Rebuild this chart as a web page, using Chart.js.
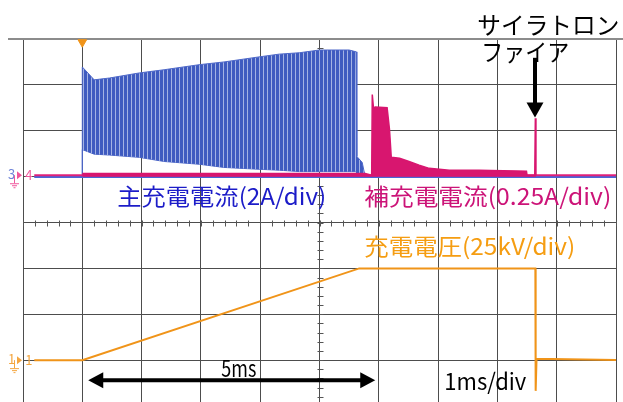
<!DOCTYPE html>
<html>
<head>
<meta charset="utf-8">
<script src="https://cdn.jsdelivr.net/npm/chart.js@4"></script>
<style>
  html, body { margin: 0; padding: 0; background: #fff; overflow: hidden; }
  canvas { display: block; }
</style>
</head>
<body>
<canvas id="scope" width="623" height="412"></canvas>
<script>
// time axis in ms from trigger (1 ms/div), vertical values in screen divisions

// ch3 main charge current (2A/div) - envelope of the oscillation
const mainT      = [0, 0, 0.08, 0.2, 0.46, 0.96, 1.38, 1.97, 2.39, 2.98, 3.32, 3.66, 4.0, 4.5, 4.62, 4.63, 4.72, 4.77];
const mainTop    = [0.99, 3.39, 3.28, 3.11, 3.15, 3.26, 3.33, 3.44, 3.50, 3.61, 3.67, 3.70, 3.76, 3.76, 3.72, 1.44, 1.31, 1.0];
const mainBottom = [0.99, 1.59, 1.55, 1.49, 1.47, 1.42, 1.33, 1.27, 1.20, 1.16, 1.14, 1.11, 1.11, 1.11, 1.11, 1.02, 1.02, 1.0];
const mainBaseT  = [-0.81, 9];
const mainBase   = [0.99, 0.99];

// ch4 auxiliary charge current (0.25A/div)
const auxT   = [0, 4.77, 4.88, 4.89, 4.91, 4.94, 5.14, 5.18, 5.21, 5.35, 5.51, 5.68, 5.85, 6.19, 6.69, 7.49, 7.5, 7.63, 7.64, 7.65];
const auxTop = [1.07, 1.07, 1.03, 2.79, 2.50, 2.52, 2.50, 2.03, 1.42, 1.40, 1.33, 1.25, 1.18, 1.14, 1.14, 1.12, 1.03, 1.03, 2.27, 1.03];
const auxBaseT = [-0.81, 9];
const auxBase  = [1.03, 1.03];

// ch1 charging voltage (25kV/div)
const voltT = [-0.81, 0, 4.67, 7.64, 7.645, 7.66, 9];
const voltV = [-3, -3, -1, -1, -3.67, -2.97, -3];

// trigger position
const trigT = [0];
const trigV = [3.93];

const BLUE = "#3f5bc0";
const MAGENTA = "#d8166f";
const ORANGE = "#f09419";
const FONT = '"Noto Sans CJK JP", "Noto Sans", sans-serif';

const pts = (xs, ys) => xs.map((x, i) => ({ x: x, y: ys[i] }));

const canvas = document.getElementById("scope");
const ctx = canvas.getContext("2d");

// striped fill, looks like the dense oscillation
function stripePattern() {
  const c = document.createElement("canvas");
  c.width = 4;
  c.height = 1;
  const g = c.getContext("2d");
  g.fillStyle = BLUE;
  g.fillRect(0, 0, 4, 1);
  g.fillStyle = "#a4b3e4";
  g.fillRect(3, 0, 1, 1);
  return ctx.createPattern(c, "repeat");
}

function fitText(c, txt, x, y, w, size, color) {
  c.save();
  c.font = size + "px " + FONT;
  c.fillStyle = color;
  c.textAlign = "left";
  c.textBaseline = "middle";
  const m = c.measureText(txt).width;
  c.translate(x, y);
  c.scale(w / m, 1);
  c.fillText(txt, 0, 0);
  c.restore();
}

function arrowHead(c, x, y, dx, dy, len, half) {
  // tip at (x,y), direction (dx,dy) unit vector
  const bx = x - dx * len, by = y - dy * len;
  c.beginPath();
  c.moveTo(x, y);
  c.lineTo(bx - dy * half, by + dx * half);
  c.lineTo(bx + dy * half, by - dx * half);
  c.closePath();
  c.fill();
}

// grid decorations, channel markers, labels and arrows
const scopeDecor = {
  id: "scopeDecor",
  beforeDatasetsDraw(chart) {
    const c = chart.ctx;
    const xs = chart.scales.x, ys = chart.scales.y;
    const a = chart.chartArea;
    c.save();
    c.strokeStyle = "#555";
    c.lineWidth = 1;
    const cx = Math.round(xs.getPixelForValue(4)) + 0.5;
    const cy = Math.round(ys.getPixelForValue(0)) + 0.5;
    c.beginPath();
    for (let i = 0; i <= 50; i++) {
      const px = Math.round(xs.getPixelForValue(-1 + i * 0.2)) + 0.5;
      c.moveTo(px, cy - 3);
      c.lineTo(px, cy + 3);
    }
    for (let i = 0; i <= 40; i++) {
      const py = Math.round(ys.getPixelForValue(-4 + i * 0.2)) + 0.5;
      c.moveTo(cx - 3, py);
      c.lineTo(cx + 3, py);
    }
    c.stroke();
    // top frame line
    c.strokeStyle = "#8c8c8c";
    c.lineWidth = 2;
    c.beginPath();
    c.moveTo(8, a.top);
    c.lineTo(chart.width, a.top);
    c.stroke();
    c.restore();
  },
  afterDraw(chart) {
    const c = chart.ctx;
    const xs = chart.scales.x, ys = chart.scales.y;
    const X = (v) => xs.getPixelForValue(v);
    const Y = (v) => ys.getPixelForValue(v);

    // channel markers on the left
    c.save();
    c.font = "13px " + FONT;
    c.textBaseline = "middle";
    c.textAlign = "left";
    const y4 = Y(1.03);
    c.fillStyle = "#6f84d8";
    c.fillText("3", 8, y4 - 1);
    c.fillStyle = "#f0579c";
    c.fillText("4", X(-0.96), y4);
    c.beginPath();
    c.moveTo(17, y4 - 4); c.lineTo(22, y4); c.lineTo(17, y4 + 4); c.closePath();
    c.fill();
    c.strokeStyle = "#f0579c";
    c.lineWidth = 1;
    c.beginPath();
    c.moveTo(14.5, y4); c.lineTo(14.5, y4 + 8);
    c.moveTo(10, y4 + 8.5); c.lineTo(19, y4 + 8.5);
    c.moveTo(12, y4 + 10.5); c.lineTo(17, y4 + 10.5);
    c.moveTo(13.5, y4 + 12.5); c.lineTo(15.5, y4 + 12.5);
    c.stroke();

    const y1 = Y(-3);
    c.fillStyle = "#f4a640";
    c.fillText("1", 8, y1 - 1);
    c.fillText("1", X(-0.96), y1);
    c.beginPath();
    c.moveTo(17, y1 - 4); c.lineTo(22, y1); c.lineTo(17, y1 + 4); c.closePath();
    c.fill();
    c.strokeStyle = "#f4a640";
    c.beginPath();
    c.moveTo(14.5, y1); c.lineTo(14.5, y1 + 8);
    c.moveTo(10, y1 + 8.5); c.lineTo(19, y1 + 8.5);
    c.moveTo(12, y1 + 10.5); c.lineTo(17, y1 + 10.5);
    c.moveTo(13.5, y1 + 12.5); c.lineTo(15.5, y1 + 12.5);
    c.stroke();
    c.restore();

    // channel labels
    fitText(c, "主充電電流(2A/div)", X(0.59), Y(0.575), 209, 23, "#1c1cc8");
    fitText(c, "補充電電流(0.25A/div)", X(4.755), Y(0.575), 247, 23, "#cc1478");
    fitText(c, "充電電圧(25kV/div)", X(4.755), Y(-0.51), 211, 23, "#f59d12");
    fitText(c, "サイラトロン", X(6.661), Y(4.30), 142, 24, "#000");
    fitText(c, "ファイア", X(6.729), Y(3.718), 88, 24, "#000");
    fitText(c, "5ms", X(2.344), Y(-3.176), 35, 23, "#000");
    fitText(c, "1ms/div", X(6.105), Y(-3.458), 82, 23, "#000");

    // thyratron fire arrow
    c.save();
    c.fillStyle = "#000";
    c.strokeStyle = "#000";
    c.lineWidth = 4;
    const ax = Math.round(X(7.64));
    c.beginPath();
    c.moveTo(ax, Y(3.59));
    c.lineTo(ax, Y(2.29) - 12);
    c.stroke();
    arrowHead(c, ax, Y(2.29), 0, 1, 15, 8.5);

    // 5ms span arrow
    const ay = Y(-3.44);
    const l = X(0.1), r = X(4.94);
    c.beginPath();
    c.moveTo(l + 12, ay);
    c.lineTo(r - 12, ay);
    c.stroke();
    arrowHead(c, l, ay, -1, 0, 15, 8);
    arrowHead(c, r, ay, 1, 0, 15, 8);
    c.restore();
  }
};

new Chart(ctx, {
  type: "line",
  data: {
    datasets: [
      {
        data: pts(mainT, mainTop),
        borderColor: "#4d67c8",
        borderWidth: 1,
        pointRadius: 0,
        fill: "+1",
        backgroundColor: stripePattern(),
        order: 2,
      },
      {
        data: pts(mainT, mainBottom),
        borderColor: "#4d67c8",
        borderWidth: 1,
        pointRadius: 0,
        fill: false,
        order: 2,
      },
      {
        data: pts(mainBaseT, mainBase),
        borderColor: "#4a66d6",
        borderWidth: 2,
        pointRadius: 0,
        order: 3,
      },
      {
        data: pts(auxT, auxTop),
        borderColor: MAGENTA,
        borderWidth: 1.5,
        pointRadius: 0,
        fill: { value: 1.0 },
        backgroundColor: MAGENTA,
        order: 1,
      },
      {
        data: pts(auxBaseT, auxBase),
        borderColor: "#e0207a",
        borderWidth: 2,
        pointRadius: 0,
        order: 1,
      },
      {
        data: pts(voltT, voltV),
        borderColor: ORANGE,
        borderWidth: 2,
        pointRadius: 0,
        order: 0,
      },
      {
        data: pts(trigT, trigV),
        showLine: false,
        pointStyle: "triangle",
        rotation: 180,
        pointRadius: 5,
        pointBackgroundColor: ORANGE,
        pointBorderColor: ORANGE,
        clip: false,
        order: 0,
      },
    ],
  },
  options: {
    responsive: false,
    animation: false,
    events: [],
    layout: { padding: { left: 23, right: 7, top: 39, bottom: 4 } },
    plugins: {
      legend: { display: false },
      tooltip: { enabled: false },
    },
    scales: {
      x: {
        type: "linear",
        min: -1,
        max: 9,
        ticks: { display: false, stepSize: 1 },
        grid: { color: "#4d4d4d", lineWidth: 1, drawTicks: false },
        border: { display: false },
        afterFit: (s) => { s.height = 0; },
      },
      y: {
        type: "linear",
        min: -4,
        max: 4,
        ticks: { display: false, stepSize: 1 },
        grid: { color: "#4d4d4d", lineWidth: 1, drawTicks: false },
        border: { display: false },
        afterFit: (s) => { s.width = 0; },
      },
    },
  },
  plugins: [scopeDecor],
});
</script>
</body>
</html>
